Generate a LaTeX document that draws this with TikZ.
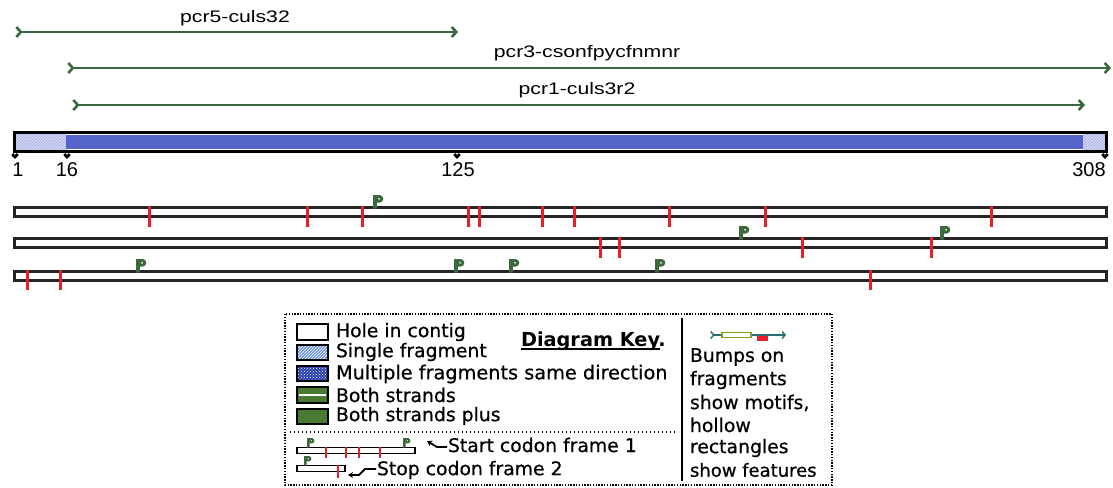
\documentclass[tikz,border=0pt]{standalone}
\usepackage{fontspec}
\usetikzlibrary{arrows.meta,patterns}
\newfontfamily\labfont[FakeStretch=1.27]{Liberation Sans}
\newfontfamily\numfont{Liberation Sans}
\newfontfamily\keyfont[FakeBold=0.6]{DejaVu Sans}
\newfontfamily\keybold{DejaVu Sans Bold}
\definecolor{arrgreen}{RGB}{56,104,62}
\definecolor{flaggreen}{RGB}{62,105,60}
\definecolor{stopred}{RGB}{232,30,40}
\definecolor{barblue}{RGB}{84,100,200}
\definecolor{hatchfill}{RGB}{214,217,245}
\definecolor{hatchline}{RGB}{160,166,222}
\definecolor{singleblue}{RGB}{110,150,235}
\definecolor{multiblue}{RGB}{40,62,175}
\definecolor{keygreen}{RGB}{72,122,52}
\definecolor{featteal}{RGB}{40,110,110}
\begin{document}
\begin{tikzpicture}[x=1pt,y=-1pt,
  every node/.style={inner sep=0pt,outer sep=0pt},
  primer/.style={arrgreen,line width=2.6pt,{Straight Barb[reversed,length=4.5pt,width=10pt]}-{Straight Barb[length=4.5pt,width=10pt]}},
  primerlab/.style={font=\labfont\fontsize{16.7}{20}\selectfont},
  numlab/.style={font=\numfont\fontsize{20}{22}\selectfont},
  stopmark/.style={stopred,line width=3pt},
  framebar/.style={draw=black!85,line width=3pt,fill=white},
  keybox/.style={draw=black,line width=2.2pt},
  keytext/.style={font=\keyfont\fontsize{18.8}{21}\selectfont,anchor=west},
  pflag/.pic={
    \fill[flaggreen,even odd rule] (0,0) -- (6.5,0) arc[start angle=-90,end angle=90,radius=3.8]
      -- (3.8,7.6) -- (3.8,13.5) -- (0,13.5) -- cycle (6,3.8) circle[radius=1.2];
  },
  posmark/.pic={
    \fill (-1.7,0) circle[radius=1.9] (1.7,0) circle[radius=1.9];
    \fill (-3.5,0.4) -- (3.5,0.4) -- (0,4) -- cycle;
  }
]
\useasboundingbox (0,0) rectangle (1113,487);

% ---------- primers ----------
\coordinate (p5s) at (15,32);   \coordinate (p5e) at (458,32);
\coordinate (p3s) at (67,68);   \coordinate (p3e) at (1111,68);
\coordinate (p1s) at (72,105);  \coordinate (p1e) at (1085,105);
\draw[primer] (p5s) -- (p5e);
\draw[primer] (p3s) -- (p3e);
\draw[primer] (p1s) -- (p1e);
\node[primerlab] (l5) at (235,18) {pcr5-culs32};
\node[primerlab] (l3) at (587,53) {pcr3-csonfpycfnmnr};
\node[primerlab] (l1) at (577,90) {pcr1-culs3r2};

% ---------- contig bar ----------
\fill[hatchfill] (15,133) rectangle (66,151);
\fill[pattern=north east lines,pattern color=hatchline] (15,133) rectangle (66,151);
\fill[barblue] (66,135) rectangle (1083,149);
\fill[hatchfill] (1083,133) rectangle (1106,151);
\fill[pattern=north east lines,pattern color=hatchline] (1083,133) rectangle (1106,151);
\draw[line width=2.4pt] (14.5,132.5) rectangle (1106.5,151.5);

\pic at (15,155) {posmark};
\pic at (67,155) {posmark};
\pic at (457,155) {posmark};
\pic at (1105,155) {posmark};
\node[numlab] (n1) at (18,170) {1};
\node[numlab] (n16) at (67,170) {16};
\node[numlab] (n125) at (458,170) {125};
\node[numlab] (n308) at (1089,170) {308};

% ---------- reading frames ----------
\draw[framebar] (14.5,207.5) rectangle (1106.5,216.5);
\draw[framebar] (14.5,238.5) rectangle (1106.5,247.5);
\draw[framebar] (14.5,271.5) rectangle (1106.5,280.5);

\foreach \x in {149,307,362,468,479,542,574,669,765,991}
  \draw[stopmark] (\x,206) -- (\x,227);
\foreach \x in {600,619,802,931}
  \draw[stopmark] (\x,237) -- (\x,258);
\foreach \x in {27,60,870}
  \draw[stopmark] (\x,270) -- (\x,290);

\pic at (373,195) {pflag};
\pic at (739,226) {pflag};
\pic at (940,226) {pflag};
\pic at (136,259) {pflag};
\pic at (454,259) {pflag};
\pic at (509,259) {pflag};
\pic at (655,259) {pflag};

% ---------- legend ----------
\draw[line width=2.2pt,dash pattern=on 1.4pt off 1.4pt] (285,314) rectangle (832,485);
\draw[line width=1.8pt] (682,318) -- (682,481);
\draw[line width=2.2pt,dash pattern=on 1.4pt off 2.6pt] (290,432) -- (678,432);

\draw[keybox,fill=white] (297,324) rectangle (328,340);
\fill[singleblue] (297,345) rectangle (328,360);
\fill[pattern=north east lines,pattern color=white] (297,345) rectangle (328,360);
\draw[keybox] (297,345) rectangle (328,360);
\fill[multiblue] (297,366) rectangle (328,381);
\fill[pattern=crosshatch dots,pattern color=white] (297,366) rectangle (328,381);
\draw[keybox] (297,366) rectangle (328,381);
\draw[keybox,fill=keygreen] (297,387) rectangle (328,403);
\draw[white,line width=1.4pt] (299,395) -- (326,395);
\draw[keybox,fill=keygreen] (297,409) rectangle (328,424);

\node[keytext] (k1) at (336,332) {Hole in contig};
\node[keytext] (k2) at (336,352) {Single fragment};
\node[keytext,font=\keyfont\fontsize{19.3}{21}\selectfont] (k3) at (336,374) {Multiple fragments same direction};
\node[keytext] (k4) at (336,395) {Both strands};
\node[keytext] (k5) at (336,416) {Both strands plus};
\node[keytext,font=\keybold\fontsize{19.3}{21}\selectfont] (dk) at (521,341) {Diagram Key.};
\draw[line width=2pt] ([yshift=-3pt]dk.base west) -- ([yshift=-3pt,xshift=-6pt]dk.base east);

% start codon sample
\draw[line width=1.8pt,fill=white] (297,447.5) rectangle (415,453.5);
\foreach \x in {326,346,359,380}
  \draw[stopred,line width=1.8pt] (\x,447) -- (\x,458);
\pic[scale=0.72] at (307,438) {pflag};
\pic[scale=0.72] at (403,438) {pflag};
\draw[line width=1.8pt,-{Stealth[length=5pt,width=6pt]}] (447,447) -- (437,447) -- (427,441);
\node[keytext] (k6) at (448,445) {Start codon frame 1};

% stop codon sample
\draw[line width=1.8pt,fill=white] (297,465.5) rectangle (345,471.5);
\draw[stopred,line width=1.8pt] (338,465) -- (338,478);
\pic[scale=0.72] at (304,456) {pflag};
\draw[line width=1.8pt,-{Stealth[length=5pt,width=6pt]}] (376,469) -- (365,469) -- (359,475) -- (348,475);
\node[keytext] (k7) at (377,470) {Stop codon frame 2};

% feature sample
\coordinate (fs) at (710,335);
\coordinate (fe) at (786,335);
\draw[featteal,line width=1.4pt,{Straight Barb[reversed,length=3pt,width=7pt]}-{Straight Barb[length=3pt,width=7pt]}] (fs) -- (fe);
\draw[draw=keygreen!70!yellow,fill=white,line width=1.4pt] (722,332.5) rectangle (751,337.5);
\fill[stopred] (757,336) rectangle (768,341);

\node[keytext] (r1) at (690,357) {Bumps on};
\node[keytext] (r2) at (690,380) {fragments};
\node[keytext] (r3) at (690,403) {show motifs,};
\node[keytext] (r4) at (690,425) {hollow};
\node[keytext] (r5) at (690,448) {rectangles};
\node[keytext,font=\keyfont\fontsize{18}{21}\selectfont] (r6) at (690,470) {show features};
\end{tikzpicture}
\end{document}
